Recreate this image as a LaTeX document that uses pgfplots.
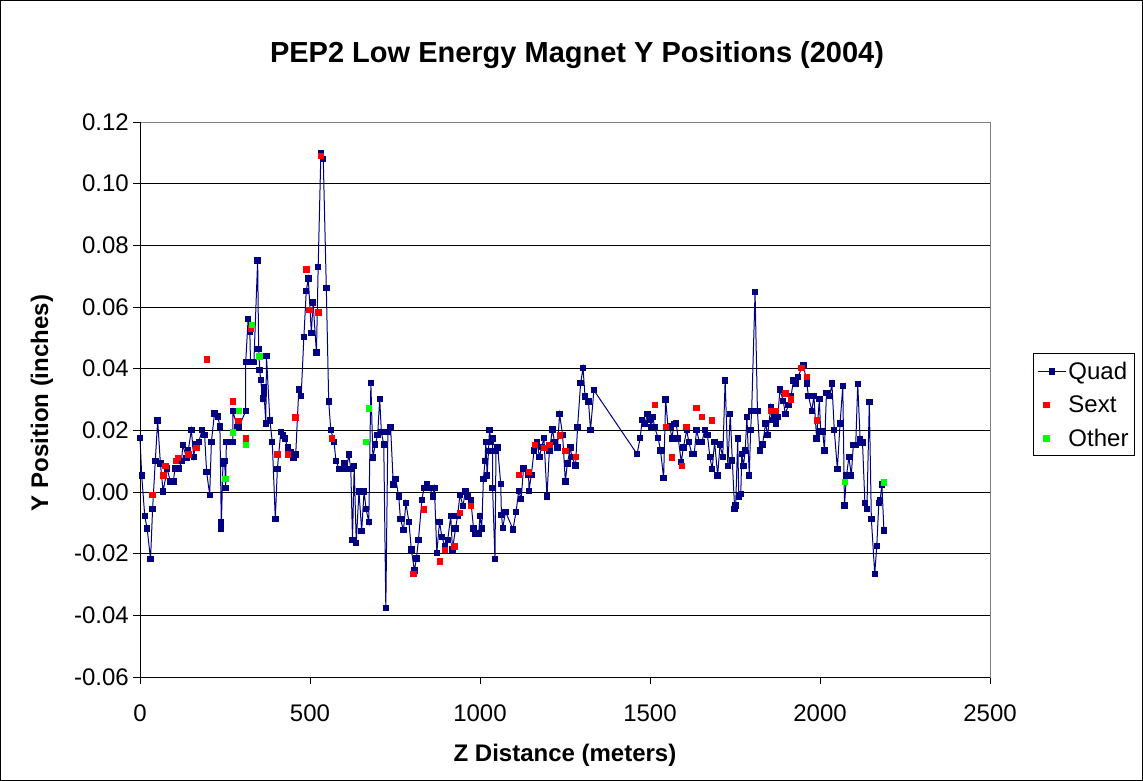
\documentclass[border=0pt]{standalone}
\usepackage{pgfplots}
\pgfplotsset{compat=1.18}
\usepackage{fontspec}
\setmainfont{Liberation Sans}
\definecolor{navyq}{RGB}{0,0,128}
\definecolor{redq}{RGB}{255,0,0}
\definecolor{greenq}{RGB}{0,255,0}
\definecolor{gridg}{RGB}{128,128,128}
\begin{document}
\begin{tikzpicture}[x=1pt,y=1pt]
\useasboundingbox (0,0) rectangle (1143,781);
\draw[black, line width=1.5pt] (0,0) rectangle (1143,781);
\begin{axis}[
  at={(140pt,104pt)}, anchor=south west,
  scale only axis, width=850pt, height=555pt,
  xmin=0, xmax=2500, ymin=-0.06, ymax=0.12,
  xtick={0,500,1000,1500,2000,2500},
  ytick={-0.06,-0.04,-0.02,0,0.02,0.04,0.06,0.08,0.1,0.12},
  scaled y ticks=false, scaled x ticks=false,
  /pgf/number format/assume math mode=true,
  yticklabel style={/pgf/number format/.cd, fixed, fixed zerofill, precision=2, /tikz/.cd,
     font=\fontsize{24}{28}\selectfont, inner sep=0pt, xshift=-4pt},
  xticklabel style={/pgf/number format/.cd, fixed, precision=0, 1000 sep={}, /tikz/.cd,
     font=\fontsize{24}{28}\selectfont, inner sep=0pt, yshift=-21pt},
  tick align=outside, major tick length=7pt,
  xtick pos=bottom, ytick pos=left,
  tick style={black, line width=0.9pt},
  ymajorgrids, major grid style={black, line width=0.9pt},
  axis line style={gridg, line width=0.9pt},
  clip=false,
  legend style={at={(1.0506,0.583)}, anchor=north west, draw=black, line width=0.9pt,
     font=\fontsize{24}{28}\selectfont, inner xsep=4pt, inner ysep=6pt, row sep=11pt,
     cells={anchor=west, xshift=4pt}},
  legend cell align=left,
]
\addplot[navyq, line width=1pt, mark=square*, mark size=2.7pt, mark options={fill=navyq, draw=navyq},
  legend image code/.code={\draw[mark repeat=2,mark phase=2] plot coordinates {(0pt,0pt)(14pt,0pt)(28pt,0pt)};}]
coordinates {
(0,0.0175)(5,0.0054)(14,-0.0078)(21,-0.0119)(31,-0.0218)(37,-0.0056)(45,0.0101)(52,0.0232)
(60,0.0092)(68,0.0002)(80,0.0076)(89,0.0034)(98,0.0034)(103,0.0076)(115,0.0076)(122,0.0101)
(126,0.0152)(137,0.0111)(142,0.0135)(151,0.0202)(158,0.0114)(163,0.0155)(173,0.0163)(183,0.0202)
(190,0.0185)(196,0.0064)(205,-0.0009)(210,0.0163)(219,0.0254)(229,0.0245)(235,0.0213)(239,-0.0097)
(239,-0.0119)(244,0.0092)(249,0.0101)(252,0.0013)(254,0.0163)(273,0.0163)(273,0.0263)(286,0.0211)
(291,0.0211)(311,0.0263)(311,0.0422)(318,0.0562)(323,0.0521)(325,0.0422)(335,0.0422)(346,0.0751)
(349,0.0463)(352,0.0395)(355,0.0364)(361,0.0303)(365,0.034)(365,0.032)(370,0.0222)(372,0.0441)
(382,0.0232)(389,0.0163)(398,-0.0088)(404,0.0075)(414,0.0194)(421,0.0183)(426,0.0173)(435,0.0144)
(443,0.013)(451,0.0111)(458,0.0122)(467,0.0332)(474,0.0311)(482,0.0503)(489,0.0652)(495,0.0692)
(504,0.0516)(509,0.0614)(519,0.0452)(524,0.073)(532,0.110)(539,0.108)(548,0.0662)(555,0.0294)
(561,0.0202)(571,0.0163)(576,0.0101)(586,0.0075)(595,0.0075)(602,0.0092)(608,0.0075)(614,0.0122)
(620,0.0075)(625,-0.0155)(630,0.0085)(636,-0.0165)(644,0.0002)(652,-0.0126)(659,0.0002)(665,-0.0056)
(673,-0.0097)(679,0.0353)(685,0.0112)(692,0.0154)(699,0.0185)(705,0.0302)(710,0.0194)(717,0.0154)
(723,-0.0376)(729,0.0194)(737,0.0211)(745,0.0024)(752,0.0043)(761,-0.0015)(766,-0.0088)(775,-0.0124)
(782,-0.0036)(791,-0.0097)(798,-0.0187)(807,-0.0254)(813,-0.0216)(819,-0.0155)(829,-0.0026)(835,0.0013)
(844,0.0024)(853,0.0013)(861,-0.0015)(866,0.0013)(873,-0.0197)(881,-0.0097)(888,-0.0146)(897,-0.0176)
(905,-0.0155)(914,-0.0078)(919,-0.0187)(928,-0.0119)(934,-0.0078)(941,-0.0009)(950,-0.0045)(957,0.0002)
(964,-0.0015)(973,-0.0026)(981,-0.0119)(987,-0.0135)(996,-0.0135)(1000,-0.0078)(1005,-0.0119)(1010,0.0043)
(1015,0.0101)(1017,0.0163)(1021,0.0054)(1025,0.0133)(1028,0.0202)(1032,0.0163)(1037,0.0173)(1037,0.0013)
(1044,-0.0218)(1047,0.0133)(1052,0.0144)(1061,0.0025)(1063,-0.0075)(1067,-0.0116)(1075,-0.0064)(1097,-0.0121)
(1106,-0.0064)(1114,0.0004)(1121,-0.0023)(1128,0.0076)(1143,0.0056)(1144,0.0004)(1151,0.0056)(1159,0.0134)
(1167,0.0163)(1175,0.0114)(1181,0.0145)(1188,0.0175)(1197,-0.0014)(1204,0.0134)(1213,0.0203)(1219,0.0163)
(1228,0.0144)(1234,0.0253)(1243,0.0184)(1251,0.0034)(1257,0.0093)(1266,0.0144)(1270,0.0114)(1281,0.0086)
(1287,0.0211)(1296,0.0353)(1303,0.0402)(1309,0.031)(1319,0.0294)(1325,0.0201)(1335,0.033)(1462,0.0123)
(1471,0.0175)(1477,0.0233)(1485,0.0222)(1493,0.0253)(1500,0.0233)(1503,0.0211)(1509,0.0243)(1513,0.0211)
(1524,0.0175)(1531,0.0134)(1540,0.0045)(1546,0.030)(1553,0.0211)(1559,0.0212)(1564,0.0174)(1571,0.022)
(1577,0.0222)(1583,0.0174)(1592,0.0097)(1598,0.0144)(1608,0.0201)(1614,0.0163)(1623,0.0124)(1630,0.0124)
(1637,0.0201)(1645,0.0163)(1653,0.0163)(1661,0.0201)(1669,0.0185)(1676,0.0113)(1683,0.0075)(1690,0.0163)
(1699,0.0054)(1706,0.0154)(1714,0.0113)(1721,0.0362)(1729,0.0085)(1736,0.0253)(1742,0.0102)(1749,-0.0055)
(1752,-0.0044)(1758,0.0174)(1761,-0.0014)(1767,-0.0006)(1770,0.0124)(1775,0.0085)(1780,0.0134)(1785,0.0244)
(1792,0.0054)(1796,0.0201)(1799,0.0262)(1809,0.0649)(1816,0.0262)(1823,0.0134)(1831,0.0154)(1840,0.0222)
(1846,0.0185)(1855,0.0274)(1859,0.0233)(1865,0.0244)(1870,0.0222)(1876,0.0244)(1882,0.0332)(1892,0.0295)
(1898,0.0253)(1907,0.0282)(1915,0.0312)(1922,0.0362)(1929,0.0352)(1935,0.0373)(1946,0.0402)(1952,0.041)
(1961,0.0352)(1966,0.0312)(1976,0.0263)(1982,0.0312)(1990,0.0174)(1998,0.0301)(2002,0.0196)(2008,0.0196)
(2013,0.0134)(2019,0.0321)(2029,0.0312)(2035,0.0352)(2042,0.0201)(2051,0.0075)(2059,0.0222)(2067,0.0343)
(2072,-0.0044)(2078,0.0054)(2085,0.0113)(2092,0.0054)(2098,0.0152)(2105,0.0152)(2111,0.0351)(2118,0.0172)
(2125,0.0161)(2132,-0.0035)(2138,-0.0056)(2145,0.0292)(2151,-0.0087)(2161,-0.0265)(2167,-0.0175)(2173,-0.0035)
(2177,-0.0026)(2182,0.0024)(2188,-0.0125)
};
\addlegendentry{Quad}
\addplot[only marks, mark=square*, mark size=2.7pt, mark options={fill=redq, draw=redq}]
coordinates {
(36,-0.0009)(68,0.0054)(74,0.0086)(105,0.0101)(111,0.0111)(142,0.0122)(165,0.0144)(196,0.0431)
(273,0.0294)(289,0.0232)(311,0.0175)(325,0.053)(404,0.0122)(435,0.0122)(457,0.0243)(489,0.0723)
(498,0.0592)(524,0.0583)(532,0.109)(564,0.0175)(804,-0.0265)(835,-0.0056)(882,-0.0225)(897,-0.0187)
(924,-0.0176)(941,-0.0067)(972,-0.0045)(1114,0.0056)(1144,0.0065)(1160,0.0154)(1189,0.0144)(1204,0.0154)
(1235,0.0184)(1250,0.0134)(1281,0.0114)(1514,0.0283)(1546,0.0211)(1563,0.0113)(1593,0.0085)(1606,0.0212)
(1636,0.0274)(1652,0.0244)(1682,0.0233)(1855,0.0263)(1870,0.0263)(1898,0.0321)(1914,0.0301)(1945,0.0403)
(1961,0.0373)(1991,0.0233)
};
\addlegendentry{Sext}
\addplot[only marks, mark=square*, mark size=2.7pt, mark options={fill=greenq, draw=greenq}]
coordinates {
(251,0.0043)(273,0.0194)(291,0.0263)(311,0.0154)(329,0.0543)(351,0.0441)(664,0.0163)(672,0.0272)
(2072,0.0034)(2188,0.0032)
};
\addlegendentry{Other}
\draw[black, line width=0.9pt] (rel axis cs:0,1) -- (rel axis cs:0,0) -- (rel axis cs:1,0);
\end{axis}
\node[anchor=base, font=\bfseries\fontsize{29}{34}\selectfont] at (577,718) {PEP2 Low Energy Magnet Y Positions (2004)};
\node[anchor=base, font=\bfseries\fontsize{24}{28}\selectfont] at (565,19) {Z Distance (meters)};
\node[anchor=base, rotate=90, font=\bfseries\fontsize{24}{28}\selectfont] at (48,378) {Y Position (inches)};
\end{tikzpicture}
\end{document}
